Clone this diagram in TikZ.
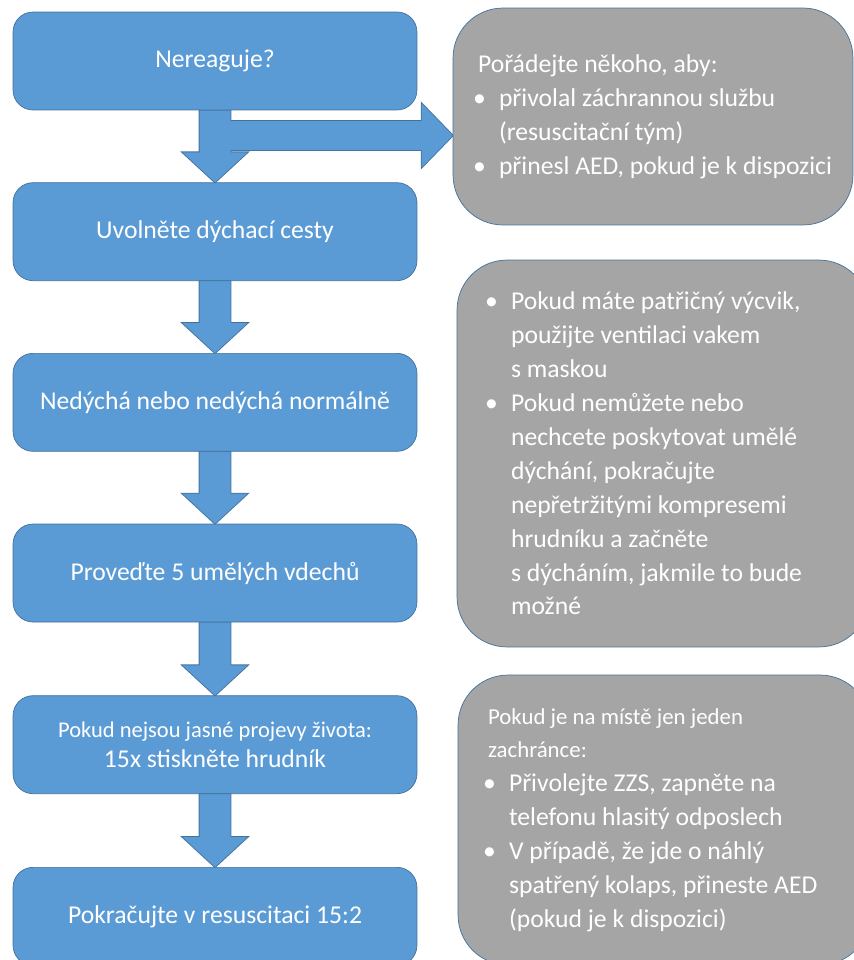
\documentclass[tikz,border=0pt]{standalone}
\usepackage{fontspec}
\setmainfont{Carlito}
\usetikzlibrary{positioning,calc,backgrounds}
\definecolor{boxblue}{HTML}{5B9BD5}
\definecolor{edgeblue}{HTML}{41719C}
\definecolor{notegray}{HTML}{A5A5A5}
\tikzset{
    block/.style = {draw=edgeblue, fill=boxblue, rectangle,
        rounded corners=0.4cm, minimum height=1.96cm,
        minimum width=8.08cm, align=center, text=white,
        font=\fontsize{14.6}{17}\selectfont},
    note/.style = {draw=edgeblue, fill=notegray, rectangle,
        rounded corners=1cm, align=flush left, text=white, inner xsep=0pt,
        font=\fontsize{14.6}{19.3}\selectfont},
    fatdown/.style 2 args = {insert path={
        ($(#1.south)+(-15.5,0)$) -- ($(#2.north)+(-15.5,-30)$)
        -- ($(#2.north)+(-32.5,-30)$) -- (#2.north)
        -- ($(#2.north)+(32.5,-30)$) -- ($(#2.north)+(15.5,-30)$)
        -- ($(#1.south)+(15.5,0)$) -- cycle}},
    fatright/.style 2 args = {insert path={
        ($(#1)+(0,-14.5)$) -- ($(#2)+(-31,-14.5)$)
        -- ($(#2)+(-31,-32)$) -- (#2)
        -- ($(#2)+(-31,32)$) -- ($(#2)+(-31,14.5)$)
        -- ($(#1)+(0,14.5)$) -- cycle}}
}
\newcommand{\bul}{\makebox[0.52cm][l]{\textbullet}}
\newcommand{\ind}{\hspace*{0.52cm}}

\begin{document}
\begin{tikzpicture}[x=0.02cm, y=-0.02cm]
    \useasboundingbox (0,0) rectangle (854,960);
    \clip (0,0) rectangle (854,960);

    \node [block] (nereaguje) at (215,61) {Nereaguje?};
    \node [block, below=1.44cm of nereaguje] (uvolnete) {Uvolněte dýchací cesty};
    \node [block, below=1.44cm of uvolnete] (nedycha) {Nedýchá nebo nedýchá normálně};
    \node [block, below=1.44cm of nedycha] (vdechy) {Proveďte 5 umělých vdechů};
    \node [block, below=1.46cm of vdechy] (hrudnik)
        {{\fontsize{12.8}{17.5}\selectfont Pokud nejsou jasné projevy života:}\\15x stiskněte hrudník};
    \node [block, below=1.46cm of hrudnik] (pokracujte) {Pokračujte v resuscitaci 15:2};

    \node [note, minimum width=8cm, minimum height=4.34cm, text width=7.2cm] (poradejte) at (653,116.5)
        {\hspace*{0.1cm}Pořádejte někoho, aby:\\
        \bul přivolal záchrannou službu\\
        \ind (resuscitační tým)\\
        \bul přinesl AED, pokud je k dispozici};
    \node [note, minimum width=8.24cm, minimum height=7.74cm, text width=7.12cm] (ventilace) at (663,453.5)
        {\bul Pokud máte patřičný výcvik,\\
        \ind použijte ventilaci vakem\\
        \ind s maskou\\
        \bul Pokud nemůžete nebo\\
        \ind nechcete poskytovat umělé\\
        \ind dýchání, pokračujte\\
        \ind nepřetržitými kompresemi\\
        \ind hrudníku a začněte\\
        \ind s dýcháním, jakmile to bude\\
        \ind možné};
    \node [note, minimum width=8.24cm, minimum height=5.8cm, text width=7.24cm] (zachrance) at (664,820)
        {\hspace*{0.1cm}{\fontsize{13}{19.3}\selectfont Pokud je na místě jen jeden}\\
        \hspace*{0.1cm}{\fontsize{13}{19.3}\selectfont zachránce:}\\
        \bul Přivolejte ZZS, zapněte na\\
        \ind telefonu hlasitý odposlech\\
        \bul V případě, že jde o náhlý\\
        \ind spatřený kolaps, přineste AED\\
        \ind (pokud je k dispozici)};

    \coordinate (tip) at ($(poradejte.west)+(0,19)$);
    \coordinate (branch) at (nereaguje.south |- tip);

    \begin{scope}[on background layer]
        \draw [edgeblue, line width=1pt, fatright={branch}{tip}];
        \foreach \a/\b in {nereaguje/uvolnete,uvolnete/nedycha,nedycha/vdechy,vdechy/hrudnik,hrudnik/pokracujte}
            \draw [edgeblue, line width=1pt, fatdown={\a}{\b}];
        \fill [boxblue, fatright={branch}{tip}];
        \foreach \a/\b in {nereaguje/uvolnete,uvolnete/nedycha,nedycha/vdechy,vdechy/hrudnik,hrudnik/pokracujte}
            \fill [boxblue, fatdown={\a}{\b}];
    \end{scope}
\end{tikzpicture}
\end{document}
